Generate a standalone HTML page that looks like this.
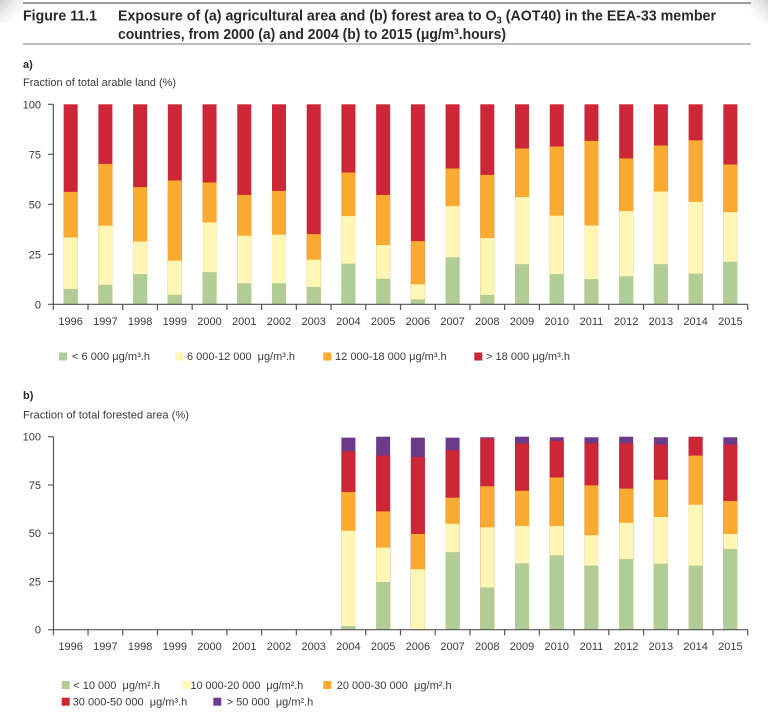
<!DOCTYPE html>
<html><head><meta charset="utf-8"><style>
html,body{margin:0;padding:0;background:#fff;}
svg{display:block;font-family:"Liberation Sans",Arial,sans-serif;}
.r{fill:#cd2636}.o{fill:#f9ab31}.y{fill:#fef6b4}.g{fill:#b2cc96}.p{fill:#6c3a88}
.t{font-size:11px;fill:#3a3a3a}
.ax{stroke:#555;stroke-width:1.2;fill:none}
.lg{font-size:11px;fill:#3a3a3a;white-space:pre}
</style></head><body>
<svg width="768" height="719" viewBox="0 0 768 719" xmlns="http://www.w3.org/2000/svg">
<defs>
<linearGradient id="sh" x1="0" y1="0" x2="1" y2="1"><stop offset="0" stop-color="#cfcfcf"/><stop offset="1" stop-color="#fff" stop-opacity="0"/></linearGradient>
<linearGradient id="sh2" x1="1" y1="0" x2="0" y2="1"><stop offset="0" stop-color="#cfcfcf"/><stop offset="1" stop-color="#fff" stop-opacity="0"/></linearGradient>
</defs>
<rect x="0" y="0" width="24" height="22" fill="url(#sh)"/>
<rect x="750" y="0" width="18" height="22" fill="url(#sh2)"/>
<line x1="23" y1="3" x2="751" y2="3" stroke="#9a9a9a" stroke-width="2"/>
<line x1="23" y1="44" x2="751" y2="44" stroke="#a8a8a8" stroke-width="1.5"/>
<text x="23" y="20.5" font-size="15" font-weight="bold" fill="#2a2a2a" textLength="74" lengthAdjust="spacingAndGlyphs">Figure 11.1</text>
<text x="118" y="20.5" font-size="15" font-weight="bold" fill="#2a2a2a" textLength="598" lengthAdjust="spacingAndGlyphs">Exposure of (a) agricultural area and (b) forest area to O<tspan font-size="10" dy="3">3</tspan><tspan dy="-3"> (AOT40) in the EEA-33 member</tspan></text>
<text x="118" y="39" font-size="15" font-weight="bold" fill="#2a2a2a" textLength="388" lengthAdjust="spacingAndGlyphs">countries, from 2000 (a) and 2004 (b) to 2015 (μg/m³.hours)</text>

<text x="23" y="68" font-size="11" font-weight="bold" fill="#2a2a2a">a)</text>
<text x="23" y="86" class="t" textLength="153" lengthAdjust="spacingAndGlyphs">Fraction of total arable land (%)</text>

<!-- chart a bars -->
<g transform="translate(0,304.3) scale(1,-2)">
<rect class="r" x="63.66" y="0" width="14" height="100"/><rect class="o" x="63.66" y="0" width="14" height="56.2"/><rect class="y" x="63.66" y="0" width="14" height="33.4"/><rect class="g" x="63.66" y="0" width="14" height="7.7"/>
<rect class="r" x="98.38" y="0" width="14" height="100"/><rect class="o" x="98.38" y="0" width="14" height="70.2"/><rect class="y" x="98.38" y="0" width="14" height="39.3"/><rect class="g" x="98.38" y="0" width="14" height="9.8"/>
<rect class="r" x="133.10" y="0" width="14" height="100"/><rect class="o" x="133.10" y="0" width="14" height="58.6"/><rect class="y" x="133.10" y="0" width="14" height="31.4"/><rect class="g" x="133.10" y="0" width="14" height="15.1"/>
<rect class="r" x="167.82" y="0" width="14" height="100"/><rect class="o" x="167.82" y="0" width="14" height="61.9"/><rect class="y" x="167.82" y="0" width="14" height="21.8"/><rect class="g" x="167.82" y="0" width="14" height="4.8"/>
<rect class="r" x="202.54" y="0" width="14" height="100"/><rect class="o" x="202.54" y="0" width="14" height="60.9"/><rect class="y" x="202.54" y="0" width="14" height="40.9"/><rect class="g" x="202.54" y="0" width="14" height="16.1"/>
<rect class="r" x="237.26" y="0" width="14" height="100"/><rect class="o" x="237.26" y="0" width="14" height="54.7"/><rect class="y" x="237.26" y="0" width="14" height="34.3"/><rect class="g" x="237.26" y="0" width="14" height="10.5"/>
<rect class="r" x="271.98" y="0" width="14" height="100"/><rect class="o" x="271.98" y="0" width="14" height="56.7"/><rect class="y" x="271.98" y="0" width="14" height="34.8"/><rect class="g" x="271.98" y="0" width="14" height="10.5"/>
<rect class="r" x="306.70" y="0" width="14" height="100"/><rect class="o" x="306.70" y="0" width="14" height="35.1"/><rect class="y" x="306.70" y="0" width="14" height="22.3"/><rect class="g" x="306.70" y="0" width="14" height="8.7"/>
<rect class="r" x="341.42" y="0" width="14" height="100"/><rect class="o" x="341.42" y="0" width="14" height="65.9"/><rect class="y" x="341.42" y="0" width="14" height="44.1"/><rect class="g" x="341.42" y="0" width="14" height="20.3"/>
<rect class="r" x="376.14" y="0" width="14" height="100"/><rect class="o" x="376.14" y="0" width="14" height="54.7"/><rect class="y" x="376.14" y="0" width="14" height="29.6"/><rect class="g" x="376.14" y="0" width="14" height="12.8"/>
<rect class="r" x="410.86" y="0" width="14" height="100"/><rect class="o" x="410.86" y="0" width="14" height="31.6"/><rect class="y" x="410.86" y="0" width="14" height="10.0"/><rect class="g" x="410.86" y="0" width="14" height="2.5"/>
<rect class="r" x="445.58" y="0" width="14" height="100"/><rect class="o" x="445.58" y="0" width="14" height="67.9"/><rect class="y" x="445.58" y="0" width="14" height="49.1"/><rect class="g" x="445.58" y="0" width="14" height="23.5"/>
<rect class="r" x="480.30" y="0" width="14" height="100"/><rect class="o" x="480.30" y="0" width="14" height="64.7"/><rect class="y" x="480.30" y="0" width="14" height="33.1"/><rect class="g" x="480.30" y="0" width="14" height="4.7"/>
<rect class="r" x="515.02" y="0" width="14" height="100"/><rect class="o" x="515.02" y="0" width="14" height="77.9"/><rect class="y" x="515.02" y="0" width="14" height="53.6"/><rect class="g" x="515.02" y="0" width="14" height="20.1"/>
<rect class="r" x="549.74" y="0" width="14" height="100"/><rect class="o" x="549.74" y="0" width="14" height="78.9"/><rect class="y" x="549.74" y="0" width="14" height="44.3"/><rect class="g" x="549.74" y="0" width="14" height="15.1"/>
<rect class="r" x="584.46" y="0" width="14" height="100"/><rect class="o" x="584.46" y="0" width="14" height="81.7"/><rect class="y" x="584.46" y="0" width="14" height="39.4"/><rect class="g" x="584.46" y="0" width="14" height="12.6"/>
<rect class="r" x="619.18" y="0" width="14" height="100"/><rect class="o" x="619.18" y="0" width="14" height="72.9"/><rect class="y" x="619.18" y="0" width="14" height="46.6"/><rect class="g" x="619.18" y="0" width="14" height="14.0"/>
<rect class="r" x="653.90" y="0" width="14" height="100"/><rect class="o" x="653.90" y="0" width="14" height="79.4"/><rect class="y" x="653.90" y="0" width="14" height="56.4"/><rect class="g" x="653.90" y="0" width="14" height="20.1"/>
<rect class="r" x="688.62" y="0" width="14" height="100"/><rect class="o" x="688.62" y="0" width="14" height="82.0"/><rect class="y" x="688.62" y="0" width="14" height="51.2"/><rect class="g" x="688.62" y="0" width="14" height="15.3"/>
<rect class="r" x="723.34" y="0" width="14" height="100"/><rect class="o" x="723.34" y="0" width="14" height="69.9"/><rect class="y" x="723.34" y="0" width="14" height="46.1"/><rect class="g" x="723.34" y="0" width="14" height="21.3"/>
</g>

<!-- chart a axes -->
<path class="ax" d="M53.3 104.3V310M48 304.3H747.7M48 104.3H53.3M48 154.3H53.3M48 204.3H53.3M48 254.3H53.3
M88.02 304.3v5.7M122.74 304.3v5.7M157.46 304.3v5.7M192.18 304.3v5.7M226.9 304.3v5.7M261.62 304.3v5.7M296.34 304.3v5.7M331.06 304.3v5.7M365.78 304.3v5.7M400.5 304.3v5.7M435.22 304.3v5.7M469.94 304.3v5.7M504.66 304.3v5.7M539.38 304.3v5.7M574.1 304.3v5.7M608.82 304.3v5.7M643.54 304.3v5.7M678.26 304.3v5.7M712.98 304.3v5.7M747.7 304.3v5.7"/>
<g class="t" text-anchor="end">
<text x="41" y="108.3">100</text><text x="41" y="158.3">75</text><text x="41" y="208.3">50</text><text x="41" y="258.3">25</text><text x="41" y="308.3">0</text>
</g>
<g class="t" text-anchor="middle">
<text x="70.66" y="325">1996</text><text x="105.38" y="325">1997</text><text x="140.10" y="325">1998</text><text x="174.82" y="325">1999</text><text x="209.54" y="325">2000</text><text x="244.26" y="325">2001</text><text x="278.98" y="325">2002</text><text x="313.70" y="325">2003</text><text x="348.42" y="325">2004</text><text x="383.14" y="325">2005</text><text x="417.86" y="325">2006</text><text x="452.58" y="325">2007</text><text x="487.30" y="325">2008</text><text x="522.02" y="325">2009</text><text x="556.74" y="325">2010</text><text x="591.46" y="325">2011</text><text x="626.18" y="325">2012</text><text x="660.90" y="325">2013</text><text x="695.62" y="325">2014</text><text x="730.34" y="325">2015</text>
</g>

<!-- legend a -->
<rect class="g" x="59" y="352.5" width="8" height="8"/>
<text class="lg" x="72" y="360" textLength="78" lengthAdjust="spacingAndGlyphs">&lt; 6 000 μg/m³.h</text>
<rect class="y" x="175" y="352.5" width="8" height="8"/>
<text class="lg" x="187" y="360" textLength="108" lengthAdjust="spacingAndGlyphs">6 000-12 000  μg/m³.h</text>
<rect class="o" x="323.3" y="352.5" width="8" height="8"/>
<text class="lg" x="335" y="360" textLength="111.7" lengthAdjust="spacingAndGlyphs">12 000-18 000 μg/m³.h</text>
<rect class="r" x="474.3" y="352.5" width="8" height="8"/>
<text class="lg" x="486" y="360" textLength="84" lengthAdjust="spacingAndGlyphs">&gt; 18 000 μg/m³.h</text>

<text x="23" y="399" font-size="11" font-weight="bold" fill="#2a2a2a">b)</text>
<text x="23" y="418.5" class="t" textLength="166" lengthAdjust="spacingAndGlyphs">Fraction of total forested area (%)</text>

<!-- chart b bars -->
<g transform="translate(0,629.7) scale(1,-1.93)">
<rect class="p" x="341.42" y="0" width="14" height="99.5"/><rect class="r" x="341.42" y="0" width="14" height="92.4"/><rect class="o" x="341.42" y="0" width="14" height="71.3"/><rect class="y" x="341.42" y="0" width="14" height="51.3"/><rect class="g" x="341.42" y="0" width="14" height="1.9"/>
<rect class="p" x="376.14" y="0" width="14" height="100"/><rect class="r" x="376.14" y="0" width="14" height="90.2"/><rect class="o" x="376.14" y="0" width="14" height="61.3"/><rect class="y" x="376.14" y="0" width="14" height="42.5"/><rect class="g" x="376.14" y="0" width="14" height="24.7"/>
<rect class="p" x="410.86" y="0" width="14" height="99.5"/><rect class="r" x="410.86" y="0" width="14" height="89.5"/><rect class="o" x="410.86" y="0" width="14" height="49.6"/><rect class="y" x="410.86" y="0" width="14" height="31.3"/>
<rect class="p" x="445.58" y="0" width="14" height="99.5"/><rect class="r" x="445.58" y="0" width="14" height="93.1"/><rect class="o" x="445.58" y="0" width="14" height="68.4"/><rect class="y" x="445.58" y="0" width="14" height="54.9"/><rect class="g" x="445.58" y="0" width="14" height="40.2"/>
<rect class="p" x="480.30" y="0" width="14" height="99.7"/><rect class="r" x="480.30" y="0" width="14" height="99.1"/><rect class="o" x="480.30" y="0" width="14" height="74.3"/><rect class="y" x="480.30" y="0" width="14" height="53.0"/><rect class="g" x="480.30" y="0" width="14" height="21.9"/>
<rect class="p" x="515.02" y="0" width="14" height="100"/><rect class="r" x="515.02" y="0" width="14" height="96.5"/><rect class="o" x="515.02" y="0" width="14" height="72.0"/><rect class="y" x="515.02" y="0" width="14" height="53.7"/><rect class="g" x="515.02" y="0" width="14" height="34.4"/>
<rect class="p" x="549.74" y="0" width="14" height="99.7"/><rect class="r" x="549.74" y="0" width="14" height="97.8"/><rect class="o" x="549.74" y="0" width="14" height="78.9"/><rect class="y" x="549.74" y="0" width="14" height="53.7"/><rect class="g" x="549.74" y="0" width="14" height="38.5"/>
<rect class="p" x="584.46" y="0" width="14" height="99.7"/><rect class="r" x="584.46" y="0" width="14" height="96.5"/><rect class="o" x="584.46" y="0" width="14" height="74.8"/><rect class="y" x="584.46" y="0" width="14" height="48.9"/><rect class="g" x="584.46" y="0" width="14" height="33.2"/>
<rect class="p" x="619.18" y="0" width="14" height="100"/><rect class="r" x="619.18" y="0" width="14" height="96.5"/><rect class="o" x="619.18" y="0" width="14" height="73.1"/><rect class="y" x="619.18" y="0" width="14" height="55.4"/><rect class="g" x="619.18" y="0" width="14" height="36.6"/>
<rect class="p" x="653.90" y="0" width="14" height="99.7"/><rect class="r" x="653.90" y="0" width="14" height="95.9"/><rect class="o" x="653.90" y="0" width="14" height="77.7"/><rect class="y" x="653.90" y="0" width="14" height="58.4"/><rect class="g" x="653.90" y="0" width="14" height="34.2"/>
<rect class="p" x="688.62" y="0" width="14" height="100"/><rect class="r" x="688.62" y="0" width="14" height="99.7"/><rect class="o" x="688.62" y="0" width="14" height="90.2"/><rect class="y" x="688.62" y="0" width="14" height="64.8"/><rect class="g" x="688.62" y="0" width="14" height="33.2"/>
<rect class="p" x="723.34" y="0" width="14" height="99.7"/><rect class="r" x="723.34" y="0" width="14" height="95.9"/><rect class="o" x="723.34" y="0" width="14" height="66.7"/><rect class="y" x="723.34" y="0" width="14" height="49.6"/><rect class="g" x="723.34" y="0" width="14" height="41.8"/>
</g>

<!-- chart b axes -->
<path class="ax" d="M53.5 436.7V635.4M48 629.7H747.7M48 436.7H53.5M48 484.95H53.5M48 533.2H53.5M48 581.45H53.5
M88.02 629.7v5.7M122.74 629.7v5.7M157.46 629.7v5.7M192.18 629.7v5.7M226.9 629.7v5.7M261.62 629.7v5.7M296.34 629.7v5.7M331.06 629.7v5.7M365.78 629.7v5.7M400.5 629.7v5.7M435.22 629.7v5.7M469.94 629.7v5.7M504.66 629.7v5.7M539.38 629.7v5.7M574.1 629.7v5.7M608.82 629.7v5.7M643.54 629.7v5.7M678.26 629.7v5.7M712.98 629.7v5.7M747.7 629.7v5.7"/>
<g class="t" text-anchor="end">
<text x="41" y="440.7">100</text><text x="41" y="488.95">75</text><text x="41" y="537.2">50</text><text x="41" y="585.45">25</text><text x="41" y="633.7">0</text>
</g>
<g class="t" text-anchor="middle">
<text x="70.66" y="650">1996</text><text x="105.38" y="650">1997</text><text x="140.10" y="650">1998</text><text x="174.82" y="650">1999</text><text x="209.54" y="650">2000</text><text x="244.26" y="650">2001</text><text x="278.98" y="650">2002</text><text x="313.70" y="650">2003</text><text x="348.42" y="650">2004</text><text x="383.14" y="650">2005</text><text x="417.86" y="650">2006</text><text x="452.58" y="650">2007</text><text x="487.30" y="650">2008</text><text x="522.02" y="650">2009</text><text x="556.74" y="650">2010</text><text x="591.46" y="650">2011</text><text x="626.18" y="650">2012</text><text x="660.90" y="650">2013</text><text x="695.62" y="650">2014</text><text x="730.34" y="650">2015</text>
</g>

<!-- legend b -->
<rect class="g" x="61.7" y="681" width="8" height="8"/>
<text class="lg" x="73.3" y="689" textLength="86.7" lengthAdjust="spacingAndGlyphs">&lt; 10 000  μg/m².h</text>
<rect class="y" x="182.7" y="681" width="8" height="8"/>
<text class="lg" x="190.5" y="689" textLength="112.8" lengthAdjust="spacingAndGlyphs">10 000-20 000  μg/m².h</text>
<rect class="o" x="323.3" y="681" width="8" height="8"/>
<text class="lg" x="336.7" y="689" textLength="115" lengthAdjust="spacingAndGlyphs">20 000-30 000  μg/m².h</text>
<rect class="r" x="61.7" y="697.7" width="8" height="8"/>
<text class="lg" x="72.7" y="705.5" textLength="114.6" lengthAdjust="spacingAndGlyphs">30 000-50 000  μg/m³.h</text>
<rect class="p" x="213.3" y="697.7" width="8" height="8"/>
<text class="lg" x="226.7" y="705.5" textLength="86.6" lengthAdjust="spacingAndGlyphs">&gt; 50 000  μg/m².h</text>
</svg>
</body></html>
